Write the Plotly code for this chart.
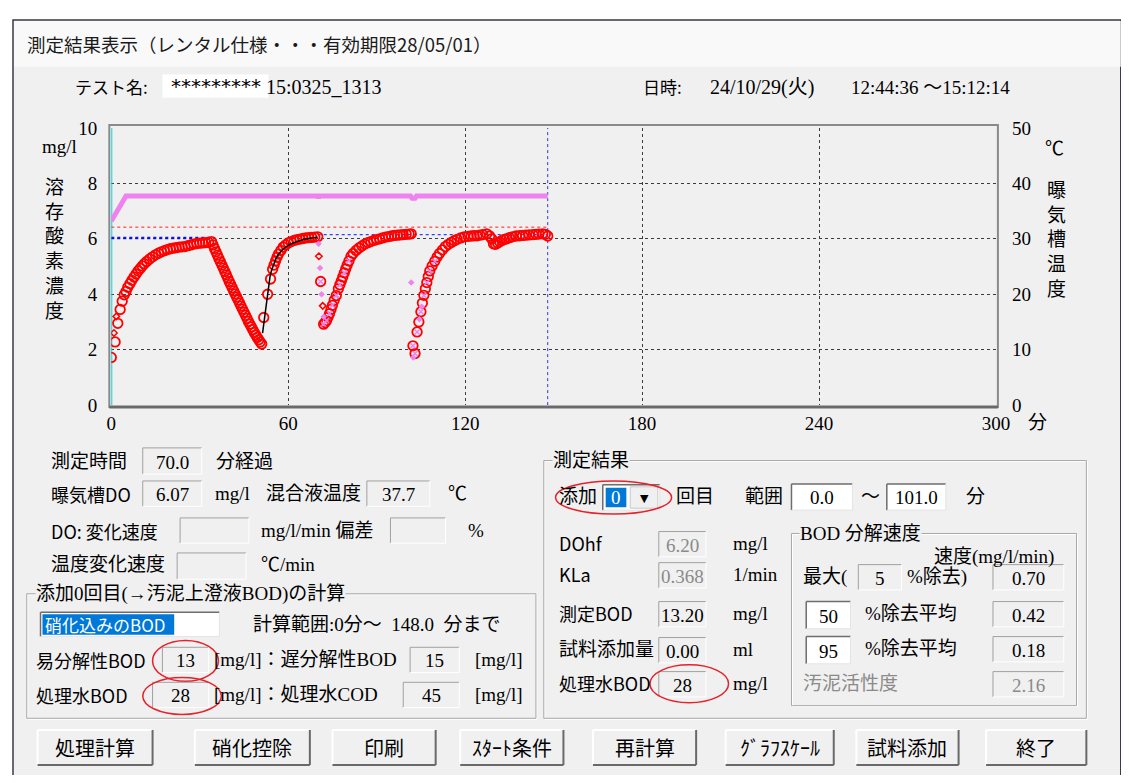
import plotly.graph_objects as go

# figure is drawn at 1113x767; the page body adds an 8px margin, so reference
# pixel (x, y) maps to figure pixel (x-8, y-8)
FW, FH = 1113, 767
OFF = 8

# ---------------- data ----------------
do_time = [0, 1.3, 2.2, 3, 3.7, 4.4, 5, 5.6, 6.3, 7, 7.7, 8.4, 9.1, 9.8, 10.5, 11.2, 12, 13, 14, 15, 16, 17, 18, 19,
           20, 21, 22, 23, 24, 25, 26, 27, 28, 29, 30, 31, 32, 33, 34,
           34.5, 35, 35.5, 36, 36.5, 37, 37.5, 38, 38.5, 39, 39.5, 40, 40.5, 41, 41.5, 42, 42.5, 43, 43.5, 44,
           44.5, 45, 45.5, 46, 46.5, 47, 47.5, 48, 48.5, 49, 49.5, 50, 50.5, 51,
           51.7, 53, 54, 54.7, 55.2, 55.7, 56.2, 56.7, 57.5, 58.3, 59.1, 60, 61, 62, 63, 64, 65, 66, 67, 68, 69, 70,
           71,
           72, 72.5, 73, 73.5, 74, 74.5, 75, 75.6, 76.3, 77, 77.5, 78, 78.5, 79, 79.5, 80, 80.6, 81.3, 82, 83, 84,
           85, 86, 87, 88, 89, 90, 91, 92, 93, 94, 95, 96, 97, 98, 99, 100, 101, 101.7,
           102.3, 103, 103.7, 104.3, 105, 105.5, 106, 106.5, 107, 107.5, 108, 108.8, 109.7, 110.5, 111.3, 112.3,
           113.3, 114.3, 115.3, 116.3, 117.3, 118.5, 119.7, 121, 122, 123, 124, 125, 126, 127.3, 128.3, 129,
           129.6, 130.3, 131, 131.7, 132.5, 133.3, 134, 135, 136, 137.3, 138.5, 139.5, 140.5, 141.7, 143, 144,
           145, 146.3, 147.2, 148]
do_value = [1.72, 2.28, 2.95, 3.45, 3.75, 3.98, 4.10, 4.25, 4.38, 4.50, 4.62, 4.73, 4.84, 4.93, 5.02, 5.10, 5.18,
            5.27, 5.35, 5.42, 5.48, 5.53, 5.57, 5.61, 5.64, 5.66, 5.68, 5.70, 5.71, 5.72, 5.75, 5.78, 5.81, 5.83,
            5.84, 5.85, 5.86, 5.87, 5.90,
            5.78, 5.65, 5.53, 5.41, 5.29, 5.17, 5.05, 4.94, 4.82, 4.70, 4.58, 4.46, 4.35, 4.23, 4.12, 4.01, 3.90,
            3.79, 3.68, 3.57, 3.46, 3.35, 3.24, 3.13, 3.02, 2.92, 2.82, 2.72, 2.62, 2.53, 2.44, 2.36, 2.28, 2.20,
            3.16, 4.00, 4.55, 4.90, 5.05, 5.20, 5.33, 5.45, 5.58, 5.70, 5.78, 5.85, 5.90, 5.94, 5.97, 5.99, 6.01,
            6.03, 6.04, 6.05, 6.06, 6.07,
            4.46,
            2.92, 2.98, 3.05, 3.17, 3.30, 3.45, 3.60, 3.78, 3.95, 4.20, 4.34, 4.48, 4.62, 4.77, 4.91, 5.05, 5.20,
            5.37, 5.47, 5.58, 5.67, 5.74, 5.81, 5.86, 5.90, 5.94, 5.97, 6.00, 6.03, 6.06, 6.08, 6.10, 6.12, 6.13,
            6.14, 6.15, 6.16, 6.17, 6.18,
            2.14, 1.86, 2.64, 3.00, 3.37, 3.68, 3.96, 4.20, 4.42, 4.64, 4.84, 5.02, 5.19, 5.34, 5.47, 5.60, 5.72,
            5.80, 5.87, 5.93, 5.98, 6.03, 6.07, 6.09, 6.10, 6.11, 6.11, 6.13, 6.15, 6.18, 6.10, 6.00, 5.82, 5.80,
            5.85, 5.89, 5.94, 5.98, 6.00, 6.04, 6.07, 6.10, 6.11, 6.12, 6.13, 6.14, 6.15, 6.16, 6.17, 6.18, 6.16,
            6.10]

fit_time = [51.3, 51.8, 52.3, 52.8, 53.3, 53.8, 54.3, 55, 55.8, 56.8, 58, 59.5, 61, 63, 65.5, 68, 70]
fit_value = [2.6, 3.05, 3.5, 3.9, 4.3, 4.62, 4.85, 5.08, 5.28, 5.45, 5.6, 5.73, 5.82, 5.9, 5.98, 6.03, 6.06]

small_red_time = [0.9, 1.7, 70.4, 71.7]
small_red_value = [2.6, 3.2, 5.37, 3.58]
small_pink_time = [70.3, 70.8, 71.3, 72.0, 101.7, 102.4, 104.5, 105.3]
small_pink_value = [5.82, 4.95, 4.0, 3.19, 4.42, 1.72, 3.1, 3.55]
pink_x_time = [71, 72, 73, 74, 75, 76.3, 77.5, 79, 80.6, 102.3, 103, 103.7, 105, 106, 107, 108, 109.7]
pink_x_value = [4.46, 2.92, 3.05, 3.30, 3.60, 3.95, 4.34, 4.77, 5.20, 2.14, 1.86, 2.64, 3.37, 3.96, 4.42, 4.84, 5.19]

temp_time = [0, 1, 2, 3, 4, 5, 70, 70.3, 70.6, 101.5, 102, 103, 103.5, 148]
temp_value = [33.2, 34.1, 35.0, 35.9, 36.8, 37.7, 37.7, 37.4, 37.7, 37.7, 37.3, 37.3, 37.7, 37.7]

dohf_line_time = [0, 148]
dohf_line_value = [6.42, 6.42]
ref1_time = [0, 33.5]
ref1_value = [6.03, 6.03]
ref2_time = [70, 148]
ref2_value = [6.15, 6.15]
range_marks = [0, 148]

x_ticks = [0, 60, 120, 180, 240, 300]
y_ticks = [0, 2, 4, 6, 8, 10]
y2_ticks = [0, 10, 20, 30, 40, 50]

# ---------------- helpers ----------------
SERIF = "Liberation Serif, Noto Sans CJK JP"
SANS = "Noto Sans CJK JP"
FS = 19
shapes = []
annos = []


def X(x):
    return (x - OFF) / FW


def Y(y):
    return 1 - (y - OFF) / FH


def rect(x0, y0, x1, y1, fill=None, line=None, lw=1, layer="above"):
    shapes.append(dict(type="rect", xref="paper", yref="paper", x0=X(x0), x1=X(x1),
                       y0=Y(y1), y1=Y(y0), layer=layer,
                       fillcolor=fill if fill else "rgba(0,0,0,0)",
                       line=dict(color=line if line else "rgba(0,0,0,0)", width=lw if line else 0)))


def seg(x0, y0, x1, y1, color, lw=1):
    shapes.append(dict(type="line", xref="paper", yref="paper", x0=X(x0), x1=X(x1),
                       y0=Y(y0), y1=Y(y1), line=dict(color=color, width=lw)))


def ellipse(x0, y0, x1, y1):
    shapes.append(dict(type="circle", xref="paper", yref="paper", x0=X(x0), x1=X(x1),
                       y0=Y(y1), y1=Y(y0), line=dict(color="#e8202a", width=1.5)))


def text(x, y, s, size=FS, color="#000000", font=SERIF, anchor="left", bg=None):
    a = dict(xref="paper", yref="paper", x=X(x), y=Y(y), text=s, showarrow=False,
             xanchor=anchor, yanchor="middle", borderpad=0,
             font=dict(family=font, size=size, color=color))
    if bg:
        a["bgcolor"] = bg
    annos.append(a)


def box(x0, y0, x1, y1, val="", fill="#f0f0f0", color="#000000"):
    rect(x0, y0, x1, y1, fill=fill)
    seg(x0, y0, x1, y0, "#a0a0a0")
    seg(x0, y0, x0, y1, "#a0a0a0")
    seg(x0, y1, x1, y1, "#ffffff")
    seg(x1, y0, x1, y1, "#ffffff")
    if val:
        text((x0 + x1) / 2, (y0 + y1) / 2 + 1, val, color=color, anchor="center")


def wbox(x0, y0, x1, y1, val=""):
    rect(x0, y0, x1, y1, fill="#ffffff")
    seg(x0, y0, x1, y0, "#6d6d6d", 1.5)
    seg(x0, y0, x0, y1, "#6d6d6d", 1.5)
    seg(x0, y1, x1, y1, "#e3e3e3")
    seg(x1, y0, x1, y1, "#e3e3e3")
    if val:
        text((x0 + x1) / 2, (y0 + y1) / 2 + 1, val, anchor="center")


def group(x0, y0, x1, y1, title):
    rect(x0, y0, x1, y1, line="#a8a8a8", lw=1)
    rect(x0 + 1, y0 + 1, x1 + 1, y1 + 1, line="#ffffff", lw=1, layer="below")
    text(x0 + 8, y0, title, bg="#f0f0f0")


def button(x0, x1, label, y0=740, y1=776):
    rect(x0, y0, x1, y1, fill="#f0f0f0")
    seg(x0, y0, x1, y0, "#ffffff", 2)
    seg(x0, y0, x0, y1, "#ffffff", 2)
    seg(x0, y1, x1, y1, "#696969", 2)
    seg(x1, y0, x1, y1, "#696969", 2)
    text((x0 + x1) / 2, (y0 + y1) / 2, label, size=20, font=SANS, anchor="center")


# ---------------- window ----------------
rect(8, 10, 1135, 790, fill="#f0f0f0", line="#3a3a4a", lw=1.5, layer="below")
rect(9, 11, 1135, 58, fill="#f9f9f9", layer="below")
text(21, 35, "測定結果表示（レンタル仕様・・・有効期限28/05/01）", size=18.5, font=SANS, color="#1b1b1b")

text(70, 78, "テスト名:", size=17, font=SANS)
rect(160, 66, 268, 90, fill="#ffffff")
text(168, 78, "*********", size=20, font="DejaVu Sans")
text(264, 79, "15:0325_1313", size=20)
text(648, 78, "日時:", size=17, font=SANS)
text(716, 79, "24/10/29(火)", size=20)
text(860, 79, "12:44:36 ～15:12:14", size=19)

# chart frame, axis captions
text(55, 140, "mg/l", anchor="center")
text(50, 246, "<br>".join("溶存酸素濃度"), anchor="center")
text(1068, 142, "℃", anchor="center")
text(1070, 236, "<br>".join("曝気槽温度"), anchor="center")
text(1050, 424, "分", anchor="center")
rect(106, 118, 1010, 408, line="#8a8a8a", lw=2)
seg(106, 408, 1010, 408, "#6a6a6a", 3)

# ---------------- lower left ----------------
text(46, 464, "測定時間")
box(140, 450, 200, 477, "70.0")
text(214, 464, "分経過")
text(46, 497, "曝気槽DO", size=18, font=SANS)
box(140, 484, 200, 510, "6.07")
text(212, 497, "mg/l")
text(264, 497, "混合液温度")
box(368, 484, 432, 510, "37.7")
text(450, 497, "℃")
text(46, 535, "DO: 変化速度", size=18, font=SANS)
box(178, 522, 248, 548)
text(259, 535, "mg/l/min 偏差")
box(392, 522, 448, 548)
text(470, 535, "%")
text(46, 570, "温度変化速度")
box(175, 558, 245, 585)
text(259, 570, "℃/min")

group(22, 600, 540, 728, "添加0回目(→汚泥上澄液BOD)の計算")
wbox(36, 619, 218, 644)
rect(38, 621, 172, 642, fill="#0078d7")
text(40, 632, "硝化込みのBOD", size=17, color="#ffffff", font=SANS)
text(251, 632, "計算範囲:0分～  148.0  分まで")
text(30, 668, "易分解性BOD", size=18, font=SANS)
box(160, 655, 207, 681, "13")
ellipse(150, 648, 217, 690)
text(211, 668, "[mg/l]：遅分解性BOD")
box(412, 655, 462, 681, "15")
text(477, 668, "[mg/l]")
text(30, 704, "処理水BOD", size=18, font=SANS)
box(150, 691, 207, 717, "28")
ellipse(140, 686, 220, 724)
text(211, 704, "[mg/l]：処理水COD")
box(405, 691, 462, 717, "45")
text(477, 704, "[mg/l]")

# ---------------- measurement results ----------------
group(548, 463, 1100, 728, "測定結果")
text(562, 500, "添加")
wbox(608, 488, 666, 514)
rect(611, 491, 632, 511, fill="#0078d7")
text(621, 501, "0", color="#ffffff", anchor="center")
rect(636, 490, 664, 512, fill="#f0f0f0", line="#c8c8c8")
text(650, 502, "▼", size=11, font="DejaVu Sans", anchor="center")
ellipse(560, 484, 678, 518)
text(682, 500, "回目")
text(752, 500, "範囲")
wbox(800, 487, 862, 514, "0.0")
text(870, 500, "～")
wbox(897, 487, 957, 514, "101.0")
text(977, 500, "分")
text(562, 548, "DOhf", size=18, font=SANS)
box(665, 536, 713, 562, "6.20", color="#8a8a8a")
text(739, 548, "mg/l")
text(562, 580, "KLa", size=18, font=SANS)
box(665, 568, 713, 594, "0.368", color="#8a8a8a")
text(739, 580, "1/min")
text(562, 620, "測定BOD", size=18, font=SANS)
box(665, 608, 713, 634, "13.20")
text(739, 620, "mg/l")
text(562, 657, "試料添加量")
box(665, 645, 713, 671, "0.00")
text(739, 657, "ml")
text(562, 692, "処理水BOD", size=18, font=SANS)
box(665, 680, 713, 706, "28")
ellipse(656, 673, 736, 712)
text(739, 692, "mg/l")

group(800, 538, 1090, 715, "BOD 分解速度")
text(944, 562, "速度(mg/l/min)")
text(811, 583, "最大(")
box(868, 570, 912, 596, "5")
text(917, 583, "%除去)")
box(1005, 570, 1077, 596, "0.70")
wbox(815, 608, 860, 636, "50")
text(874, 620, "%除去平均")
box(1005, 608, 1077, 634, "0.42")
wbox(815, 644, 860, 672, "95")
text(874, 656, "%除去平均")
box(1005, 644, 1077, 670, "0.18")
text(811, 692, "汚泥活性度", color="#8a8a8a")
box(1005, 680, 1077, 706, "2.16", color="#8a8a8a")

for bx0, bx1, lab in [(33, 150, "処理計算"), (193, 310, "硝化控除"), (333, 438, "印刷"),
                      (463, 568, "ｽﾀｰﾄ条件"), (598, 703, "再計算"), (733, 843, "ｸﾞﾗﾌｽｹｰﾙ"),
                      (866, 970, "試料添加"), (998, 1100, "終了")]:
    button(bx0, bx1, lab)

# ---------------- traces ----------------
fig = go.Figure()
fig.add_trace(go.Scatter(x=[range_marks[0]] * 2, y=[0, 10], mode="lines",
                         line=dict(color="#00d8e0", width=2)))
fig.add_trace(go.Scatter(x=[range_marks[1]] * 2, y=[0, 10], mode="lines",
                         line=dict(color="#3030ff", width=1, dash="dot")))
fig.add_trace(go.Scatter(x=dohf_line_time, y=dohf_line_value, mode="lines",
                         line=dict(color="#ff2020", width=1, dash="dot")))
fig.add_trace(go.Scatter(x=ref1_time, y=ref1_value, mode="lines",
                         line=dict(color="#1010e0", width=2.5, dash="dot")))
fig.add_trace(go.Scatter(x=ref2_time, y=ref2_value, mode="lines",
                         line=dict(color="#3040ff", width=1.2, dash="dot")))
fig.add_trace(go.Scatter(x=temp_time, y=temp_value, mode="lines", yaxis="y2",
                         line=dict(color="#ee82ee", width=5)))
fig.add_trace(go.Scatter(x=do_time, y=do_value, mode="markers",
                         marker=dict(symbol="circle-open", size=9.5, color="#ff0000",
                                     line=dict(width=1.8, color="#ff0000"))))
fig.add_trace(go.Scatter(x=pink_x_time, y=pink_x_value, mode="markers",
                         marker=dict(symbol="x-thin-open", size=5, color="#ee82ee",
                                     line=dict(width=1.5, color="#ee82ee"))))
fig.add_trace(go.Scatter(x=small_red_time, y=small_red_value, mode="markers",
                         marker=dict(symbol="diamond-open", size=5, color="#ff0000",
                                     line=dict(width=1.5, color="#ff0000"))))
fig.add_trace(go.Scatter(x=small_pink_time, y=small_pink_value, mode="markers",
                         marker=dict(symbol="diamond", size=5, color="#ee82ee")))
fig.add_trace(go.Scatter(x=fit_time, y=fit_value, mode="lines",
                         line=dict(color="#000000", width=1.5)))

grid = dict(showgrid=True, gridcolor="#3c3c3c", gridwidth=1, griddash="dot", zeroline=False,
            showline=False, ticks="", tickfont=dict(family=SERIF, size=FS, color="#000000"))
fig.update_layout(
    width=FW, height=FH, autosize=False, margin=dict(l=0, r=0, t=0, b=0),
    paper_bgcolor="#ffffff", plot_bgcolor="#f0f0f0", showlegend=False,
    xaxis=dict(domain=[X(108), X(1008)], range=[0, 300], tickvals=x_ticks,
               ticklabelstandoff=5, **grid),
    yaxis=dict(domain=[Y(406), Y(121)], range=[0, 10], tickvals=y_ticks,
               ticklabelstandoff=13, **grid),
    yaxis2=dict(overlaying="y", side="right", range=[0, 50], tickvals=y2_ticks, showgrid=False,
                zeroline=False, ticks="", ticklabelstandoff=15,
                tickfont=dict(family=SERIF, size=FS, color="#000000")),
    shapes=shapes, annotations=annos,
)

fig.write_html("out.html", config={"displayModeBar": False})
